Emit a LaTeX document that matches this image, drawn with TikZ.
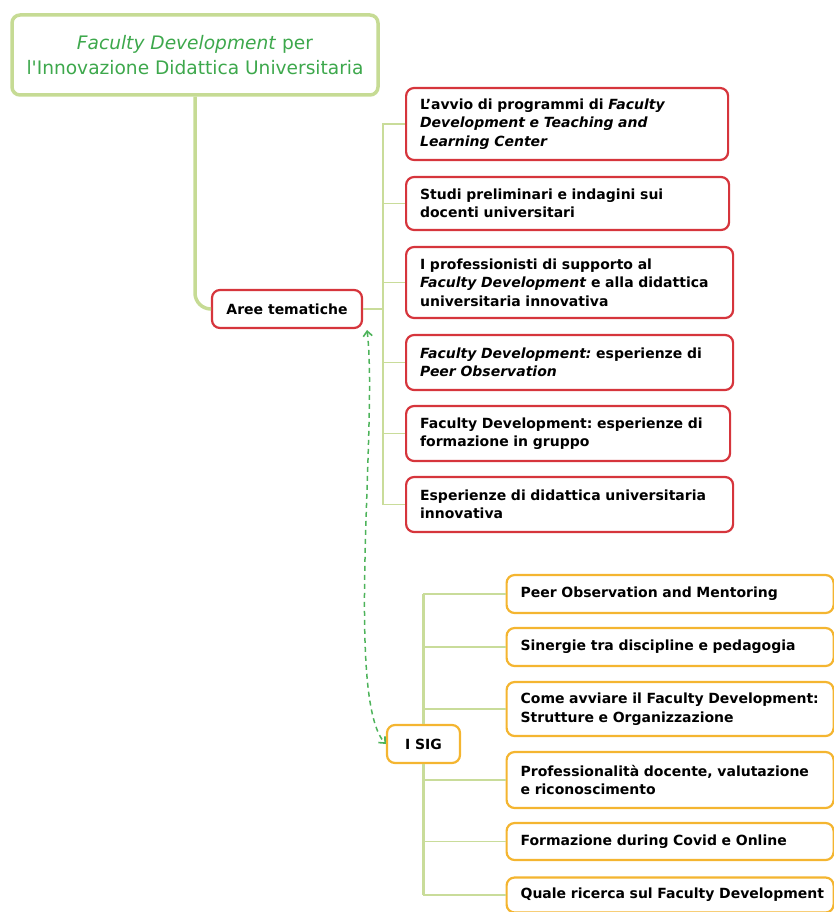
\documentclass[tikz,border=0pt]{standalone}
\usepackage{fontspec}
\setmainfont{DejaVu Sans}
\usetikzlibrary{arrows.meta}
\definecolor{titlegreen}{HTML}{3DA84C}
\definecolor{framegreen}{HTML}{C6DB94}
\definecolor{branchgreen}{HTML}{C9DC9A}
\definecolor{dashgreen}{HTML}{4DB35A}
\definecolor{boxred}{HTML}{D6353C}
\definecolor{boxyellow}{HTML}{F4B530}
\frenchspacing
\begin{document}
\begin{tikzpicture}[x=1pt,y=-1pt,
  titlebox/.style={draw=framegreen, line width=3.5pt, rounded corners=8pt, fill=white,
    align=center, minimum width=366pt, minimum height=80pt, inner sep=0pt,
    text=titlegreen, font=\fontsize{18.6}{25}\selectfont},
  redbox/.style={draw=boxred, line width=2.2pt, rounded corners=8pt, fill=white,
    anchor=west, align=left, inner xsep=14pt, inner ysep=0pt,
    font=\bfseries\fontsize{14}{18.5}\selectfont},
  yellowbox/.style={draw=boxyellow, line width=2.2pt, rounded corners=8pt, fill=white,
    anchor=west, align=left, inner xsep=14pt, inner ysep=0pt,
    font=\bfseries\fontsize{14}{18.5}\selectfont},
  trunk/.style={draw=framegreen, line width=3.5pt, rounded corners=16pt},
  twig/.style={draw=branchgreen, line width=1.3pt},
  spine/.style={draw=branchgreen, line width=2.6pt},
  linkarrow/.style={draw=dashgreen, line width=1.5pt, dash pattern=on 5pt off 4pt,
    {Straight Barb[length=5pt,width=9pt,line width=1.6pt]}-{Straight Barb[length=5pt,width=9pt,line width=1.6pt]}}
]
\useasboundingbox (0,0) rectangle (834,912);

\node[titlebox] (title) at (195,55) {\textit{Faculty Development} per\\l\textquotesingle Innovazione Didattica Universitaria};

\node[redbox, anchor=center, align=center, minimum width=150pt, minimum height=38pt, inner xsep=0pt] (aree) at (287,309) {Aree tematiche};

\node[redbox, minimum height=72pt, text width=294pt] (r1) at (405,124) {\mbox{L’avvio di programmi di \textit{Faculty}}\\\mbox{\textit{Development e Teaching and}}\\\mbox{\textit{Learning Center}}};
\node[redbox, minimum height=53pt, text width=295pt] (r2) at (405,203.5) {\mbox{Studi preliminari e indagini sui}\\\mbox{docenti universitari}};
\node[redbox, minimum height=71pt, text width=299pt] (r3) at (405,282.5) {\mbox{I professionisti di supporto al}\\\mbox{\textit{Faculty Development} e alla didattica}\\\mbox{universitaria innovativa}};
\node[redbox, minimum height=55pt, text width=299pt] (r4) at (405,362.5) {\mbox{\textit{Faculty Development:} esperienze di}\\\mbox{\textit{Peer Observation}}};
\node[redbox, minimum height=55pt, text width=296pt] (r5) at (405,433.5) {\mbox{Faculty Development: esperienze di}\\\mbox{formazione in gruppo}};
\node[redbox, minimum height=55pt, text width=299pt] (r6) at (405,504.5) {\mbox{Esperienze di didattica universitaria}\\\mbox{innovativa}};

\node[yellowbox, anchor=center, align=center, minimum width=73pt, minimum height=38pt, inner xsep=0pt] (isig) at (423.5,744) {I SIG};

\node[yellowbox, minimum height=38pt, text width=299pt] (y1) at (505.5,594) {\mbox{Peer Observation and Mentoring}};
\node[yellowbox, minimum height=38pt, text width=299pt] (y2) at (505.5,647) {\mbox{Sinergie tra discipline e pedagogia}};
\node[yellowbox, minimum height=54pt, text width=299pt] (y3) at (505.5,709) {\mbox{Come avviare il Faculty Development:}\\\mbox{Strutture e Organizzazione}};
\node[yellowbox, minimum height=56pt, text width=299pt] (y4) at (505.5,780) {\mbox{Professionalità docente, valutazione}\\\mbox{e riconoscimento}};
\node[yellowbox, minimum height=37pt, text width=299pt] (y5) at (505.5,841.5) {\mbox{Formazione during Covid e Online}};
\node[yellowbox, minimum height=35pt, text width=299pt] (y6) at (505.5,895) {\mbox{Quale ricerca sul Faculty Development}};

% trunk from title to Aree tematiche
\draw[trunk] (title.south) |- (aree.west);

% red branches
\coordinate (rj) at (383,309);
\draw[twig] (aree.east) -- (rj);
\foreach \i in {1,...,6} { \draw[twig] (rj) |- (r\i.west); }

% yellow branches
\draw[spine] (isig.north) -- (isig.north |- y1.west);
\draw[spine] (isig.south) -- (isig.south |- y6.west);
\foreach \i in {1,2,3} { \draw[twig] (isig.north) |- (y\i.west); }
\foreach \i in {4,5,6} { \draw[twig] (isig.south) |- (y\i.west); }

% dashed link
\coordinate (lk) at (367,330);
\draw[linkarrow] (lk) .. controls (378,420) and (345,700) .. (isig.west);

\end{tikzpicture}
\end{document}
